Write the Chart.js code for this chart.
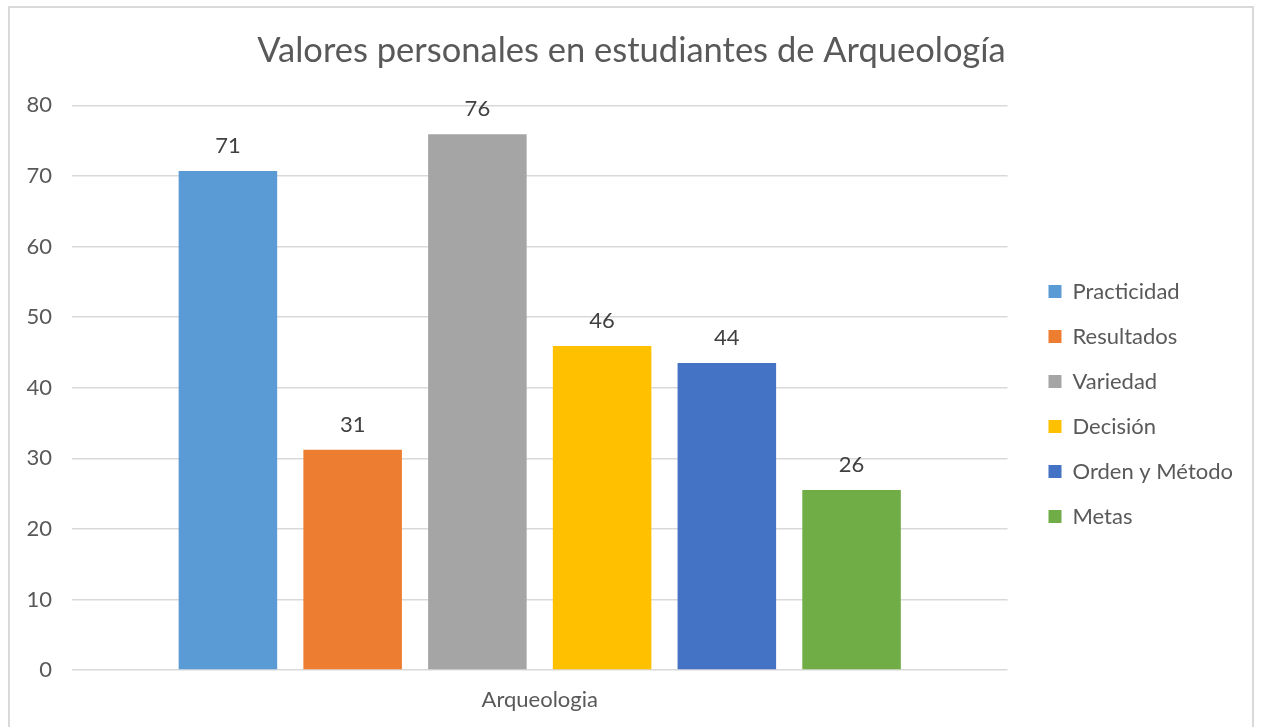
<!DOCTYPE html>
<html>
<head>
<meta charset="utf-8">
<script src="https://cdn.jsdelivr.net/npm/chart.js@4.4.0/dist/chart.umd.min.js"></script>
<style>
    html, body { margin: 0; padding: 0; background: #ffffff; overflow: hidden; }
    #frame {
        position: absolute; left: 8px; top: 6px; width: 1246px; height: 740px;
        border: 2px solid #d9d9d9; box-sizing: border-box;
    }
    #chart { position: absolute; left: 0; top: 0; }
</style>
</head>
<body>
<div id="frame"></div>
<canvas id="chart" width="1261" height="727"></canvas>
<script>
const categories = ['Arqueologia'];
const seriesNames = ['Practicidad', 'Resultados', 'Variedad', 'Decisión', 'Orden y Método', 'Metas'];
const seriesValues = [70.7, 31.2, 75.9, 45.9, 43.5, 25.5];
const seriesColors = ['#5B9BD5', '#ED7D31', '#A5A5A5', '#FFC000', '#4472C4', '#70AD47'];
const yTicks = [0, 10, 20, 30, 40, 50, 60, 70, 80];

const FONT = 'Lato, "Liberation Sans", sans-serif';
const TEXT = '#595959';

// value labels above each bar
const barLabels = {
    id: 'barLabels',
    afterDatasetsDraw(chart) {
        const ctx = chart.ctx;
        ctx.save();
        ctx.font = `22px ${FONT}`;
        ctx.fillStyle = '#404040';
        ctx.textAlign = 'center';
        ctx.textBaseline = 'middle';
        chart.data.datasets.forEach((ds, i) => {
            chart.getDatasetMeta(i).data.forEach((bar, j) => {
                ctx.fillText(Math.round(ds.data[j]), bar.x, bar.y - 25);
            });
        });
        ctx.restore();
    }
};

// nudge legend and title to where the original has them
const boxShift = {
    id: 'boxShift',
    afterLayout(chart) {
        const lg = chart.legend;
        lg.left += 18;
        lg.right += 18;
        lg.top += 43;
        lg.bottom += 43;
        const tb = chart.titleBlock;
        tb.left += 14;
        tb.right += 14;
    }
};

const datasets = seriesNames.map((name, i) => ({
    label: name,
    data: [seriesValues[i]],
    backgroundColor: seriesColors[i],
    borderWidth: 0
}));

new Chart(document.getElementById('chart'), {
    type: 'bar',
    data: { labels: categories, datasets: datasets },
    plugins: [barLabels, boxShift],
    options: {
        responsive: false,
        animation: false,
        categoryPercentage: 0.8,
        barPercentage: 0.79,
        layout: { padding: { top: 10, left: 10, right: 36, bottom: 15 } },
        plugins: {
            title: {
                display: true,
                text: 'Valores personales en estudiantes de Arqueología',
                color: TEXT,
                font: { family: FONT, size: 34.5, weight: 'normal' },
                padding: { top: 20, bottom: 34 }
            },
            legend: {
                position: 'right',
                labels: {
                    color: TEXT,
                    font: { family: FONT, size: 22 },
                    boxWidth: 13,
                    boxHeight: 13,
                    padding: 23
                }
            },
            tooltip: { enabled: false }
        },
        scales: {
            x: {
                afterFit(scale) { scale.height = 42; },
                grid: { display: false, drawTicks: false },
                border: { display: false },
                ticks: { color: TEXT, font: { family: FONT, size: 22 }, padding: 17 }
            },
            y: {
                min: 0,
                max: 80,
                afterFit(scale) { scale.width = 62; },
                afterBuildTicks(scale) { scale.ticks = yTicks.map(v => ({ value: v })); },
                grid: { color: '#d9d9d9', lineWidth: 1.5, drawTicks: false },
                border: { display: false },
                ticks: { color: TEXT, font: { family: FONT, size: 22 }, padding: 20 }
            }
        }
    }
});
</script>
</body>
</html>
